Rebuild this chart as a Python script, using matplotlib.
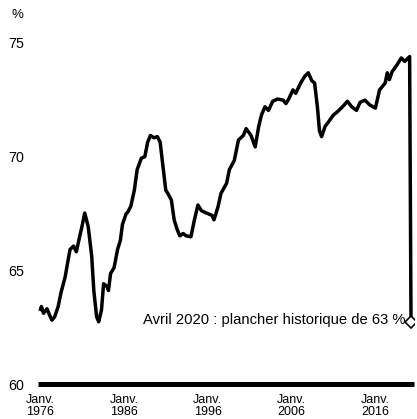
import matplotlib
matplotlib.use("Agg")
import matplotlib.pyplot as plt

plt.rcParams['font.family'] = ['Liberation Sans', 'DejaVu Sans']

dates = ["1976-01", "1976-03", "1976-06", "1976-11", "1977-03", "1977-06", "1977-10",
         "1978-03", "1978-07", "1979-01", "1979-05", "1979-08", "1980-01", "1980-05",
         "1980-10", "1981-01", "1981-05", "1981-10", "1982-03", "1982-06", "1982-10",
         "1983-01", "1983-05", "1983-08", "1984-01", "1984-03", "1984-06", "1984-11",
         "1985-04", "1985-08", "1985-11", "1986-04", "1986-07", "1986-11", "1987-04",
         "1987-08", "1988-02", "1988-07", "1988-11", "1989-03", "1989-08", "1990-01",
         "1990-05", "1990-08", "1991-01", "1991-04", "1991-09", "1992-01", "1992-05",
         "1992-09", "1993-02", "1993-06", "1994-01", "1994-06", "1994-11", "1995-04",
         "1995-11", "1996-07", "1996-10", "1997-04", "1997-08", "1998-04", "1998-08",
         "1999-03", "1999-09", "2000-04", "2000-08", "2001-03", "2001-09", "2002-02",
         "2002-06", "2002-11", "2003-04", "2003-10", "2004-05", "2005-01", "2005-05",
         "2005-09", "2006-03", "2006-07", "2007-02", "2007-08", "2008-01", "2008-06",
         "2008-10", "2009-02", "2009-05", "2009-08", "2010-01", "2010-06", "2011-01",
         "2011-07", "2012-02", "2012-09", "2013-03", "2013-10", "2014-03", "2014-10",
         "2015-05", "2016-01", "2016-07", "2017-03", "2017-06", "2017-09", "2018-01",
         "2018-08", "2019-02", "2019-07", "2020-02", "2020-04"]

rate = [63.2, 63.4, 63.1, 63.3, 63.0, 62.8, 62.95,
        63.4, 64.0, 64.7, 65.4, 65.9, 66.05, 65.8,
        66.5, 66.9, 67.5, 66.9, 65.6, 64.1, 62.95,
        62.73, 63.25, 64.4, 64.27, 64.1, 64.85, 65.1,
        65.9, 66.3, 67.0, 67.45, 67.56, 67.8, 68.5,
        69.4, 69.9, 69.97, 70.6, 70.9, 70.8, 70.85,
        70.6, 69.8, 68.5, 68.36, 68.07, 67.2, 66.8,
        66.5, 66.6, 66.5, 66.46, 67.2, 67.85, 67.6,
        67.5, 67.4, 67.2, 67.8, 68.36, 68.8, 69.4,
        69.8, 70.7, 70.9, 71.2, 70.9, 70.4, 71.3,
        71.8, 72.16, 72.0, 72.4, 72.5, 72.45, 72.3,
        72.5, 72.9, 72.75, 73.2, 73.5, 73.65, 73.3,
        73.2, 72.16, 71.1, 70.85, 71.3, 71.5, 71.8,
        71.95, 72.16, 72.4, 72.16, 72.0, 72.35, 72.45,
        72.24, 72.1, 72.9, 73.2, 73.65, 73.35, 73.7,
        74.0, 74.3, 74.15, 74.36, 62.7]

tick_years = [1976, 1986, 1996, 2006, 2016]
tick_labels = ["Janv.\n1976", "Janv.\n1986", "Janv.\n1996", "Janv.\n2006", "Janv.\n2016"]
y_ticks = [60, 65, 70, 75]
note = "Avril 2020 : plancher historique de 63 %"


def to_year(s):
    y, m = s.split("-")
    return int(y) + (int(m) - 1) / 12.0


x = [to_year(d) for d in dates]

fig = plt.figure(figsize=(4.17, 4.19), dpi=100)
ax = fig.add_axes([38 / 417, 35 / 419, 375.7 / 417, 353.4 / 419])

ax.plot(x, rate, color="black", lw=2.5, solid_joinstyle="round", solid_capstyle="butt")
ax.plot([x[-1]], [rate[-1]], marker="D", ms=6, mfc="white", mec="black", mew=1.2,
        linestyle="none", zorder=5)
ax.text(x[-1] - 0.65, rate[-1] + 0.1, note, ha="right", va="center", fontsize=10.6)

ax.set_xlim(1975.76, 2020.57)
ax.set_ylim(60, 75.5)

for s in ["top", "right", "left"]:
    ax.spines[s].set_visible(False)
ax.spines["bottom"].set_linewidth(3.6)
ax.spines["bottom"].set_capstyle("butt")

ax.set_xticks(tick_years)
ax.set_xticklabels(tick_labels, fontsize=9, linespacing=1.05)
ax.set_yticks(y_ticks)
ax.set_yticklabels([str(v) for v in y_ticks], fontsize=10.3)
ax.tick_params(axis="both", length=0)
ax.tick_params(axis="y", pad=10)
ax.tick_params(axis="x", pad=7)

fig.text(12 / 417, 1 - 15 / 419, "%", fontsize=9.5, ha="left", va="center")

fig.savefig("out.png", dpi=100)
